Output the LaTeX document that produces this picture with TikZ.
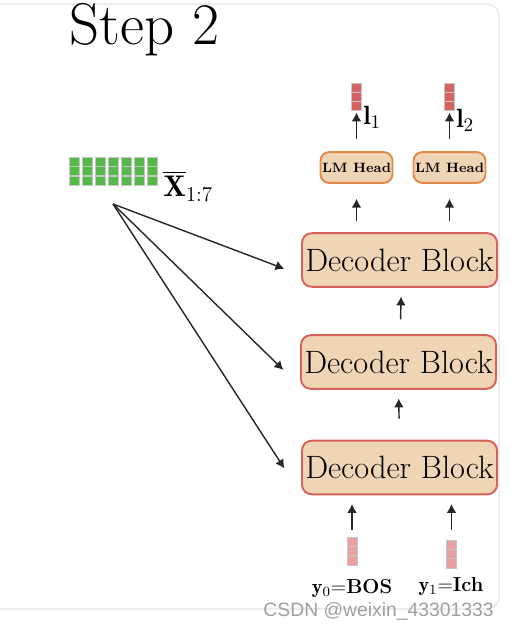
\documentclass[tikz,border=0pt]{standalone}
\usepackage{amsmath}
\usepackage{amssymb}
\usepackage{fontspec}
\newfontfamily\markfont{Liberation Sans}
\usetikzlibrary{arrows.meta}

\definecolor{blocktan}{RGB}{240,212,182}
\definecolor{blockred}{RGB}{214,96,90}
\definecolor{headorange}{RGB}{228,138,72}
\definecolor{vecgreen}{RGB}{86,184,72}
\definecolor{vecred}{RGB}{214,98,98}
\definecolor{vecpink}{RGB}{232,160,160}
\definecolor{framegray}{RGB}{236,236,236}

\begin{document}
\begin{tikzpicture}[x=0.02cm, y=-0.02cm, >={Latex[length=5pt,width=5.5pt]},
  decoder/.style={draw=blockred, fill=blocktan, line width=1.1pt, rounded corners=5.5pt,
    minimum width=111pt, minimum height=30.5pt, inner sep=0pt, font=\fontsize{18.4}{21}\selectfont},
  lmhead/.style={draw=headorange, fill=blocktan, line width=1.1pt, rounded corners=5pt,
    minimum width=41pt, minimum height=17.5pt, inner sep=0pt, font=\fontsize{7.7}{9}\selectfont\bfseries},
  cell/.style={draw=gray!45, line width=0.4pt, minimum width=5.6pt, minimum height=5.2pt, inner sep=0pt},
  uparrow/.style={->, line width=0.8pt, draw=black!85}]
  \useasboundingbox (0,0) rectangle (510,628);
  % frame
  \draw[framegray, line width=1.1pt, rounded corners=7pt] (-20,4) rectangle (499,609);
  \node[anchor=base west, font=\fontsize{33.5}{38}\selectfont, inner sep=0pt] (title) at (69,45) {Step 2};
  % encoder output
  \foreach \j in {0,...,6}
    \foreach \i in {0,1,2}
      \node[cell, fill=vecgreen] (x\j-\i) at (74+13*\j, 161.5+9.5*\i) {};
  \node[anchor=west, font=\fontsize{17}{19}\selectfont, inner sep=0pt] (xbar) at (163,186) {$\overline{\mathbf{X}}_{1:7}$};
  \coordinate (src) at (113,204);
  % decoder stack
  \node[decoder] (dec1) at (399.5,260) {Decoder Block};
  \node[decoder] (dec2) at (398.5,362) {Decoder Block};
  \node[decoder] (dec3) at (399.5,467.5) {Decoder Block};
  \draw[uparrow] (src) -- ([xshift=-9.5pt,yshift=-5pt]dec1.west);
  \draw[uparrow] (src) -- ([xshift=-9.5pt,yshift=-4.5pt]dec2.west);
  \draw[uparrow] (src) -- ([xshift=-9.5pt,yshift=-0.5pt]dec3.west);
  \draw[uparrow, shorten <=12pt, shorten >=5pt] (dec3.north) -- (dec2.south);
  \draw[uparrow, shorten <=8.5pt, shorten >=5pt] ([xshift=1pt]dec2.north) -- ([xshift=1pt]dec1.south);
  % heads
  \node[lmhead] (lm1) at (356.5,167.5) {LM Head};
  \node[lmhead] (lm2) at (449.5,167.5) {LM Head};
  \draw[uparrow, shorten <=6.2pt, shorten >=8.5pt] (dec1.north -| lm1) -- (lm1.south);
  \draw[uparrow, shorten <=6.2pt, shorten >=8.5pt] (dec1.north -| lm2) -- (lm2.south);
  % output logits
  \foreach \i in {0,1,2} {
    \node[cell, fill=vecred] (o1-\i) at (356.5, 87.5+9*\i) {};
    \node[cell, fill=vecred] (o2-\i) at (449.5, 87.5+9*\i) {};
  }
  \draw[uparrow, shorten <=6.8pt, shorten >=1.2pt] (lm1.north) -- (o1-2.south);
  \draw[uparrow, shorten <=6.8pt, shorten >=1.2pt] (lm2.north) -- (o2-2.south);
  \node[anchor=west, font=\fontsize{15}{17}\selectfont, inner sep=0pt] (l1) at (363,117) {$\mathbf{l}_1$};
  \node[anchor=west, font=\fontsize{15}{17}\selectfont, inner sep=0pt] (l2) at (456,120) {$\mathbf{l}_2$};
  % decoder inputs
  \foreach \i in {0,1,2} {
    \node[cell, fill=vecpink] (y0-\i) at (352, 541.7+9.3*\i) {};
    \node[cell, fill=vecpink] (y1-\i) at (451.5, 544.7+9.3*\i) {};
  }
  \draw[uparrow, shorten <=4pt, shorten >=5pt] (y0-0.north) -- (dec3.south -| y0-0);
  \draw[uparrow, shorten <=5.5pt, shorten >=5pt] (y1-0.north) -- (dec3.south -| y1-0);
  \node[anchor=base, font=\fontsize{11.5}{13}\selectfont, inner sep=0pt] (lab0) at (352,593) {$\mathbf{y}_0$=\textbf{BOS}};
  \node[anchor=base, font=\fontsize{11.5}{13}\selectfont, inner sep=0pt] (lab1) at (451,591) {$\mathbf{y}_1$=\textbf{Ich}};
  \node[anchor=base east, font=\fontsize{11}{13}\markfont, text=gray!75, inner sep=0pt] (mark) at (494,616) {CSDN @weixin\_43301333};
\end{tikzpicture}
\end{document}
